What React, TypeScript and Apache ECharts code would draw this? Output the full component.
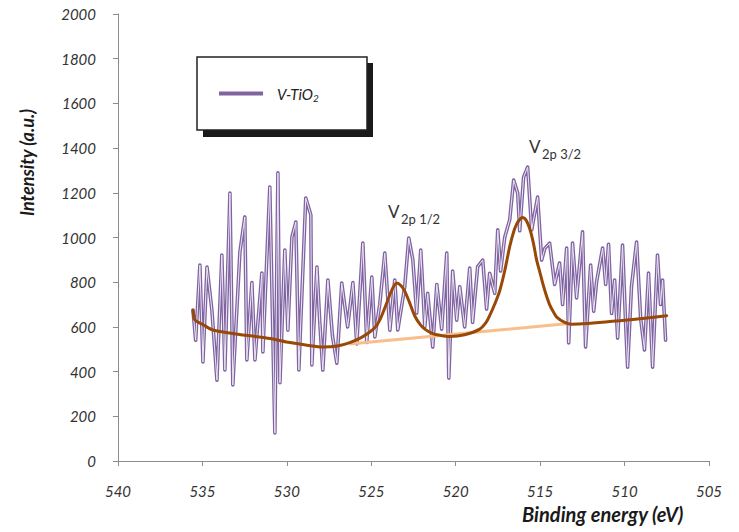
import React, { useEffect, useRef } from "react";
import * as echarts from "echarts";

// Binding energy (eV) and intensity of the measured V-TiO2 spectrum
const energy = [
  535.56, 535.4, 535.15, 534.97, 534.73, 534.44, 534.14, 533.85, 533.67, 533.37,
  533.2, 532.78, 532.49, 532.37, 532.07, 531.89, 531.48, 531.42, 531.01, 530.71,
  530.53, 530.41, 530.12, 529.94, 529.7, 529.47, 529.29, 528.88, 528.58, 528.52,
  528.22, 528.05, 527.87, 527.57, 527.3, 527.04, 526.75, 526.4, 526.09, 525.86,
  525.5, 525.27, 524.97, 524.79, 524.5, 524.2, 523.9, 523.61, 523.43, 523.02,
  522.78, 522.54, 522.31, 522.07, 521.83, 521.66, 521.36, 521.12, 520.83, 520.53,
  520.41, 520.18, 519.94, 519.76, 519.47, 519.17, 519.0, 518.7, 518.4, 518.17,
  517.99, 517.69, 517.51, 517.34, 517.1, 516.8, 516.57, 516.33, 516.21, 515.98,
  515.74, 515.5, 515.15, 514.91, 514.73, 514.44, 514.14, 513.85, 513.67, 513.43,
  513.31, 513.08, 512.84, 512.49, 512.31, 512.01, 511.83, 511.66, 511.3, 511.12,
  510.95, 510.77, 510.59, 510.41, 510.12, 509.94, 509.82, 509.59, 509.29, 509.05,
  508.82, 508.58, 508.34, 508.05, 507.87, 507.75, 507.57,
];
const intensity = [
  675, 540, 877, 443, 868, 675, 362, 922, 407, 1199,
  340, 935, 1092, 452, 798, 452, 841, 488, 1226, 125,
  1289, 350, 944, 585, 1002, 1069, 407, 1177, 1101, 430,
  868, 620, 407, 810, 560, 438, 796, 600, 798, 524,
  975, 530, 823, 555, 700, 930, 585, 810, 586, 780,
  998, 900, 662, 944, 600, 750, 510, 790, 590, 930,
  371, 850, 630, 780, 600, 863, 620, 870, 899, 680,
  840, 750, 1034, 850, 1000, 1080, 1257, 1199, 1030, 1270,
  1315, 1034, 1181, 899, 950, 975, 790, 886, 700, 953,
  528, 975, 730, 1025, 510, 877, 670, 800, 953, 790,
  970, 660, 810, 550, 966, 620, 420, 780, 980, 640,
  497, 841, 420, 922, 700, 810, 541,
];

// Peak fit envelope
const fitEnergy = [
  535.56, 535.44, 535.0, 534.38, 533.3, 532.19, 531.0, 529.82, 528.8, 527.87,
  527.0, 526.27, 525.6, 525.09, 524.75, 524.5, 524.25, 524.02, 523.75, 523.49,
  523.25, 523.02, 522.75, 522.43, 522.1, 521.83, 521.36, 520.9, 520.36, 519.47,
  518.58, 518.2, 517.99, 517.7, 517.4, 517.1, 516.8, 516.55, 516.39, 516.2,
  516.04, 515.85, 515.62, 515.4, 515.21, 515.0, 514.85, 514.65, 514.44, 514.2,
  514.02, 513.55, 513.14, 510.0, 507.51,
];
const fitIntensity = [
  675, 631, 612, 586, 572, 560, 548, 530, 518, 510,
  515, 530, 552, 577, 600, 630, 675, 720, 770, 796,
  785, 760, 712, 650, 610, 590, 570, 562, 557, 565,
  590, 620, 650, 700, 760, 850, 960, 1030, 1060, 1082,
  1090, 1080, 1040, 975, 900, 840, 796, 745, 700, 665,
  644, 620, 612, 630, 650,
];

// Linear background
const baseEnergy = [526.3, 513.3];
const baseIntensity = [523, 615];

const legendName = "V-TiO2";

export default function App() {
  const ref = useRef<HTMLDivElement>(null);
  useEffect(() => {
    if (!ref.current) return;
    const chart = echarts.init(ref.current, undefined, { renderer: "svg" });
    const pts = (xs: number[], ys: number[]) => xs.map((x, i) => [x, ys[i]]);
    const purple = "#8064A2";
    const labelColor = "#333333";
    chart.setOption({
      animation: false,
      backgroundColor: "#ffffff",
      grid: { left: 118, right: 30, top: 14, bottom: 71 },
      xAxis: {
        type: "value",
        min: 505,
        max: 540,
        interval: 5,
        inverse: true,
        splitLine: { show: false },
        axisLine: { show: true, onZero: false, lineStyle: { color: "#8c8c8c", width: 1 } },
        axisTick: { show: true, length: 5, lineStyle: { color: "#8c8c8c" } },
        axisLabel: {
          margin: 22,
          color: labelColor,
          fontFamily: "Lato",
          fontStyle: "italic",
          fontSize: 15,
          formatter: (v: number) => String(v),
        },
      },
      yAxis: {
        type: "value",
        min: 0,
        max: 2000,
        interval: 200,
        splitLine: { show: false },
        axisLine: { show: true, lineStyle: { color: "#8c8c8c", width: 1 } },
        axisTick: { show: true, length: 5, lineStyle: { color: "#8c8c8c" } },
        axisLabel: {
          margin: 22,
          color: labelColor,
          fontFamily: "Lato",
          fontStyle: "italic",
          fontSize: 15,
          formatter: (v: number) => String(v),
        },
      },
      legend: {
        show: true,
        left: 219,
        top: 86,
        padding: 0,
        itemWidth: 44,
        itemHeight: 4,
        icon: "rect",
        z: 10,
        data: [{ name: legendName, itemStyle: { color: purple } }],
        formatter: () => "{a|V-TiO}{b|2}",
        textStyle: {
          rich: {
            a: { fontFamily: "Lato", fontStyle: "italic", fontSize: 15, color: "#222", padding: [0, 0, 0, 9] },
            b: { fontFamily: "Lato", fontStyle: "italic", fontSize: 10, color: "#222", padding: [8, 0, 0, 0] },
          },
        },
      },
      graphic: [
        { type: "rect", z: 1, shape: { x: 203, y: 63, width: 170, height: 74 }, style: { fill: "#1a1a1a" } },
        { type: "rect", z: 2, shape: { x: 197, y: 57, width: 170, height: 73 }, style: { fill: "#ffffff", stroke: "#222222", lineWidth: 1.5 } },
        {
          type: "text",
          z: 5,
          x: 27,
          y: 216,
          rotation: Math.PI / 2,
          style: {
            text: "Intensity (a.u.)",
            font: "italic bold 18px Lato",
            fill: "#1a1a1a",
            align: "left",
            verticalAlign: "middle",
          },
        },
        {
          type: "text",
          z: 5,
          x: 522,
          y: 504,
          style: { text: "Binding energy (eV)", font: "italic bold 20px Lato", fill: "#1a1a1a" },
        },
        { type: "text", z: 5, x: 388, y: 203, style: { text: "V", font: "17px Lato", fill: "#333" } },
        { type: "text", z: 5, x: 401, y: 212, style: { text: "2p 1/2", font: "13px Lato", fill: "#333" } },
        { type: "text", z: 5, x: 529, y: 138, style: { text: "V", font: "17px Lato", fill: "#333" } },
        { type: "text", z: 5, x: 542, y: 147, style: { text: "2p 3/2", font: "13px Lato", fill: "#333" } },
      ],
      series: [
        {
          name: legendName,
          type: "line",
          data: pts(energy, intensity),
          showSymbol: false,
          symbol: "none",
          lineStyle: { color: purple, width: 3.6, cap: "round", join: "round" },
          itemStyle: { color: purple },
          z: 2,
        },
        {
          name: "inner",
          type: "line",
          data: pts(energy, intensity),
          showSymbol: false,
          symbol: "none",
          lineStyle: { color: "#ece6f4", width: 1, cap: "round", join: "round" },
          z: 3,
          silent: true,
        },
        {
          name: "background",
          type: "line",
          data: pts(baseEnergy, baseIntensity),
          showSymbol: false,
          symbol: "none",
          lineStyle: { color: "#F8BE8C", width: 3 },
          z: 4,
        },
        {
          name: "fit",
          type: "line",
          data: pts(fitEnergy, fitIntensity),
          showSymbol: false,
          symbol: "none",
          smooth: 0.3,
          lineStyle: { color: "#984807", width: 3, cap: "round", join: "round" },
          z: 5,
        },
      ],
    });
    return () => chart.dispose();
  }, []);
  return (
    <div
      ref={ref}
      style={{ position: "absolute", left: 0, top: 0, width: 739, height: 532 }}
    />
  );
}
